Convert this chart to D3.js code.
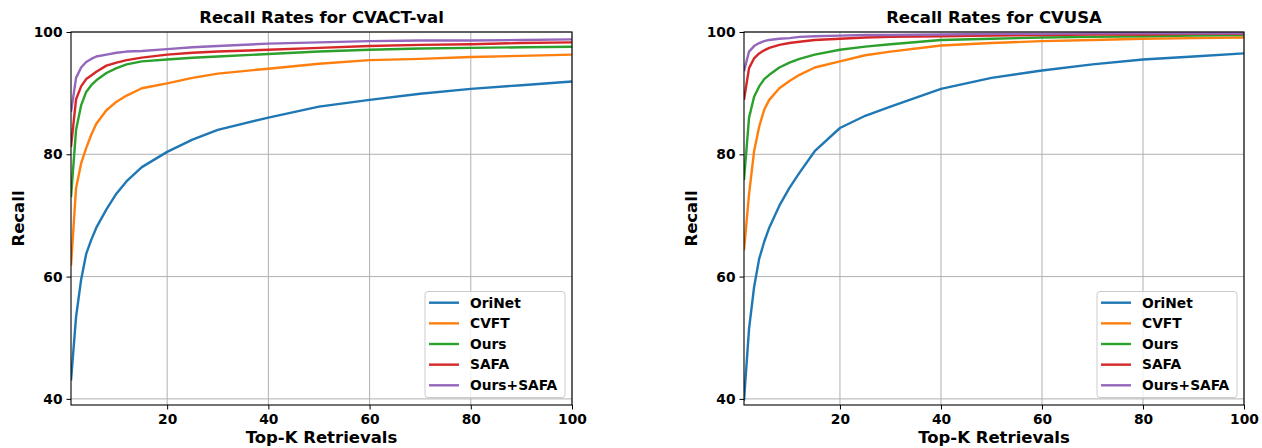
<!DOCTYPE html>
<html>
<head>
<meta charset="utf-8">
<script src="https://cdn.jsdelivr.net/npm/d3@7"></script>
<style>
  body { margin: 0; background: #fff; }
  text { font-family: "DejaVu Sans", sans-serif; font-weight: bold; fill: #000; }
</style>
</head>
<body>
<svg id="chart" width="1262" height="448"></svg>
<script>
// values, recall (%) at top-K
var topK = [1, 2, 3, 4, 5, 6, 8, 10, 12, 15, 20, 25, 30, 40, 50, 60, 70, 80, 90, 100];

var cvactOriNet   = [43.0, 53.4, 59.5, 63.7, 66.0, 68.0, 71.0, 73.6, 75.6, 77.9, 80.4, 82.4, 84.0, 86.0, 87.8, 88.9, 89.9, 90.7, 91.3, 91.9];
var cvactCVFT     = [61.8, 74.5, 78.5, 81.0, 83.2, 85.0, 87.2, 88.6, 89.6, 90.8, 91.6, 92.5, 93.2, 94.0, 94.8, 95.4, 95.6, 95.9, 96.1, 96.3];
var cvactOurs     = [73.0, 84.0, 88.0, 90.2, 91.3, 92.1, 93.3, 94.1, 94.7, 95.2, 95.5, 95.8, 96.0, 96.4, 96.8, 97.1, 97.3, 97.4, 97.5, 97.6];
var cvactSAFA     = [81.2, 89.0, 91.1, 92.3, 92.9, 93.5, 94.5, 95.0, 95.4, 95.8, 96.3, 96.6, 96.8, 97.1, 97.4, 97.7, 97.9, 98.0, 98.2, 98.3];
var cvactOursSAFA = [86.9, 92.5, 94.2, 95.1, 95.6, 96.0, 96.3, 96.6, 96.8, 96.9, 97.2, 97.5, 97.7, 98.1, 98.3, 98.5, 98.6, 98.6, 98.7, 98.8];

var cvusaOriNet   = [39.7, 51.5, 58.3, 62.9, 65.7, 68.0, 71.6, 74.5, 77.0, 80.5, 84.3, 86.3, 87.8, 90.7, 92.5, 93.7, 94.7, 95.5, 96.0, 96.5];
var cvusaCVFT     = [64.3, 73.5, 80.5, 84.5, 87.3, 88.9, 90.8, 92.0, 93.0, 94.2, 95.2, 96.2, 96.8, 97.8, 98.2, 98.5, 98.7, 98.9, 99.0, 99.1];
var cvusaOurs     = [75.8, 86.0, 89.4, 91.1, 92.3, 93.0, 94.2, 95.0, 95.6, 96.3, 97.1, 97.6, 98.0, 98.7, 98.9, 99.1, 99.2, 99.3, 99.4, 99.5];
var cvusaSAFA     = [88.9, 94.1, 95.7, 96.5, 97.0, 97.4, 97.9, 98.2, 98.4, 98.7, 98.9, 99.1, 99.2, 99.3, 99.4, 99.5, 99.6, 99.6, 99.7, 99.7];
var cvusaOursSAFA = [93.6, 96.8, 97.7, 98.2, 98.5, 98.7, 98.9, 99.0, 99.2, 99.3, 99.4, 99.5, 99.5, 99.6, 99.7, 99.7, 99.8, 99.8, 99.8, 99.8];

var seriesNames = ["OriNet", "CVFT", "Ours", "SAFA", "Ours+SAFA"];
var colors = ["#1f77b4", "#ff7f0e", "#2ca02c", "#d62728", "#9467bd"];
var xTicks = [20, 40, 60, 80, 100];
var yTicks = [40, 60, 80, 100];

var panels = [
  {title: "Recall Rates for CVACT-val", left: 71, right: 572,
   data: [cvactOriNet, cvactCVFT, cvactOurs, cvactSAFA, cvactOursSAFA]},
  {title: "Recall Rates for CVUSA", left: 744, right: 1244,
   data: [cvusaOriNet, cvusaCVFT, cvusaOurs, cvusaSAFA, cvusaOursSAFA]}
];

var plotTop = 32, plotBottom = 405;
var svg = d3.select("#chart");

panels.forEach(function(p, pi) {
  var x = d3.scaleLinear().domain([1, 100]).range([p.left, p.right]);
  var y = d3.scaleLinear().domain([39, 100]).range([plotBottom, plotTop]);
  var g = svg.append("g");

  // grid
  g.selectAll(".gx").data(xTicks).enter().append("line")
    .attr("x1", function(d){ return x(d); }).attr("x2", function(d){ return x(d); })
    .attr("y1", plotTop).attr("y2", plotBottom)
    .attr("stroke", "#b0b0b0").attr("stroke-width", 1);
  g.selectAll(".gy").data(yTicks).enter().append("line")
    .attr("x1", p.left).attr("x2", p.right)
    .attr("y1", function(d){ return y(d); }).attr("y2", function(d){ return y(d); })
    .attr("stroke", "#b0b0b0").attr("stroke-width", 1);

  // clip
  svg.append("clipPath").attr("id", "clip" + pi).append("rect")
    .attr("x", p.left).attr("y", plotTop)
    .attr("width", p.right - p.left).attr("height", plotBottom - plotTop);

  var line = d3.line()
    .x(function(d, i){ return x(topK[i]); })
    .y(function(d){ return y(d); });

  g.append("g").attr("clip-path", "url(#clip" + pi + ")")
    .selectAll("path").data(p.data).enter().append("path")
    .attr("d", line)
    .attr("fill", "none")
    .attr("stroke", function(d, i){ return colors[i]; })
    .attr("stroke-width", 2.4)
    .attr("stroke-linejoin", "round");

  // axes
  var xAxis = d3.axisBottom(x).tickValues(xTicks).tickSize(4.5).tickPadding(5);
  var yAxis = d3.axisLeft(y).tickValues(yTicks).tickSize(4.5).tickPadding(4);
  var gx = g.append("g").attr("transform", "translate(0," + plotBottom + ")").call(xAxis);
  var gy = g.append("g").attr("transform", "translate(" + p.left + ",0)").call(yAxis);
  [gx, gy].forEach(function(a) {
    a.select(".domain").remove();
    a.selectAll("line").attr("stroke", "#000").attr("stroke-width", 1);
    a.selectAll("text").style("font-size", "13.8px").attr("font-family", null);
  });

  // spines
  g.append("rect").attr("x", p.left).attr("y", plotTop)
    .attr("width", p.right - p.left).attr("height", plotBottom - plotTop)
    .attr("fill", "none").attr("stroke", "#000").attr("stroke-width", 1.1);

  var cx = (p.left + p.right) / 2;
  g.append("text").attr("x", cx).attr("y", 23).attr("text-anchor", "middle")
    .style("font-size", "16.5px").text(p.title);
  g.append("text").attr("x", cx).attr("y", 443).attr("text-anchor", "middle")
    .style("font-size", "16.5px").text("Top-K Retrievals");
  g.append("text").attr("transform", "translate(" + (p.left - 47) + "," + ((plotTop + plotBottom) / 2) + ") rotate(-90)")
    .attr("text-anchor", "middle").style("font-size", "16.5px").text("Recall");

  // legend
  var lx = p.right - 147, ly = 291.5;
  var leg = g.append("g");
  leg.append("rect").attr("x", lx).attr("y", ly).attr("width", 140).attr("height", 106)
    .attr("rx", 3).attr("fill", "#fff").attr("fill-opacity", 0.8)
    .attr("stroke", "#cccccc").attr("stroke-width", 1);
  var items = leg.selectAll(".item").data(seriesNames).enter().append("g")
    .attr("transform", function(d, i){ return "translate(0," + (ly + 11.2 + i * 20.65) + ")"; });
  items.append("line").attr("x1", lx + 4).attr("x2", lx + 34)
    .attr("stroke", function(d, i){ return colors[i]; }).attr("stroke-width", 2.4);
  items.append("text").attr("x", lx + 45).attr("dy", "0.35em")
    .style("font-size", "13.8px").text(function(d){ return d; });
});
</script>
</body>
</html>
